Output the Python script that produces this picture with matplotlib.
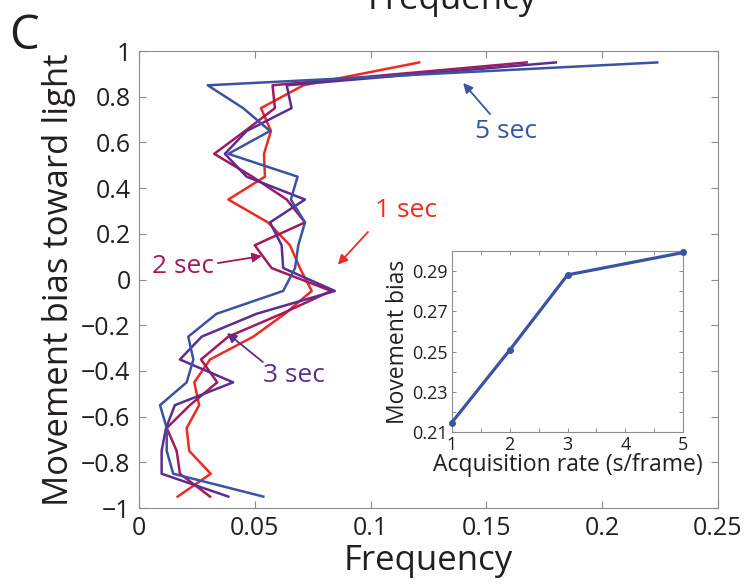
import matplotlib
matplotlib.use("Agg")
import matplotlib.pyplot as plt
import numpy as np

plt.rcParams['font.family'] = ['Open Sans', 'DejaVu Sans']

# bin centres of the bias histogram (top to bottom)
bias_bins = [0.95, 0.85, 0.75, 0.65, 0.55, 0.45, 0.35, 0.25, 0.15, 0.05,
             -0.05, -0.15, -0.25, -0.35, -0.45, -0.55, -0.65, -0.75, -0.85, -0.95]

freq_1s = [0.121, 0.071, 0.0527, 0.057, 0.054, 0.0544, 0.0386, 0.0557, 0.0652, 0.0695,
           0.0746, 0.063, 0.0494, 0.0307, 0.0239, 0.026, 0.0206, 0.0217, 0.031, 0.0167]
freq_2s = [0.1674, 0.0577, 0.0587, 0.0458, 0.0325, 0.049, 0.0638, 0.0717, 0.050, 0.0573,
           0.083, 0.0616, 0.0386, 0.0268, 0.0338, 0.022, 0.012, 0.0163, 0.0177, 0.0307]
freq_3s = [0.180, 0.0638, 0.0659, 0.0465, 0.0371, 0.0465, 0.0717, 0.0566, 0.0616, 0.0623,
           0.0846, 0.0508, 0.0271, 0.0177, 0.0407, 0.0155, 0.0117, 0.0098, 0.0098, 0.0386]
freq_5s = [0.2238, 0.0297, 0.045, 0.0566, 0.0386, 0.0685, 0.0656, 0.0717, 0.0688, 0.0674,
           0.0623, 0.0335, 0.0213, 0.0235, 0.0206, 0.0091, 0.012, 0.012, 0.0148, 0.0537]

# inset: mean bias per acquisition rate
acq_rate = [1, 2, 3, 5]
mean_bias = [0.2148, 0.2507, 0.288, 0.2991]

xticks = [0, 0.05, 0.1, 0.15, 0.2, 0.25]
xtick_labels = ['0', '0.05', '0.1', '0.15', '0.2', '0.25']
yticks = [-1, -0.8, -0.6, -0.4, -0.2, 0, 0.2, 0.4, 0.6, 0.8, 1]
ytick_labels = ['\u22121', '\u22120.8', '\u22120.6', '\u22120.4', '\u22120.2', '0',
                '0.2', '0.4', '0.6', '0.8', '1']

c_red = '#EE2A24'
c_crim = '#A3195B'
c_purp = '#5C2D91'
c_blue = '#3A53A4'
c_text = '#231F20'
c_axis = '#8C8C8C'

fig = plt.figure(figsize=(7.51, 5.85), dpi=100)
ax = fig.add_axes([0.185, 0.1316, 0.771, 0.7812])

ax.plot(freq_1s, bias_bins, color=c_red, lw=1.8)
ax.plot(freq_2s, bias_bins, color=c_crim, lw=1.8)
ax.plot(freq_3s, bias_bins, color=c_purp, lw=1.8)
ax.plot(freq_5s, bias_bins, color=c_blue, lw=1.8)

ax.set_xlim(0, 0.25)
ax.set_ylim(-1, 1)
ax.set_xticks(xticks)
ax.set_xticklabels(xtick_labels)
ax.set_yticks(yticks)
ax.set_yticklabels(ytick_labels)
ax.tick_params(direction='in', length=5, width=0.8, color=c_axis, labelsize=18,
               labelcolor=c_text, top=True, right=True, pad=6)
for s in ax.spines.values():
    s.set_color(c_axis)
    s.set_linewidth(0.8)
ax.set_xlabel('Frequency', fontsize=25, color=c_text, labelpad=2)
ax.set_ylabel('Movement bias toward light', fontsize=25, color=c_text, labelpad=4)

# series labels and their arrows
labels = [('1 sec', c_red, (0.1153, 0.30), (0.0989, 0.208), (0.0859, 0.065)),
          ('2 sec', c_crim, (0.0190, 0.059), (0.0341, 0.072), (0.0531, 0.103)),
          ('3 sec', c_purp, (0.0669, -0.422), (0.0535, -0.361), (0.0380, -0.234)),
          ('5 sec', c_blue, (0.1585, 0.646), (0.1516, 0.724), (0.1400, 0.860))]
for txt, col, pos, tail, head in labels:
    ax.text(pos[0], pos[1], txt, color=col, fontsize=19, ha='center', va='center')
    ax.annotate('', xy=head, xytext=tail,
                arrowprops=dict(arrowstyle='-|>', color=col, lw=1.3, shrinkA=0, shrinkB=0,
                                mutation_scale=14))

# inset
ins = fig.add_axes([0.6015, 0.261, 0.3084, 0.3105])
ins.plot(acq_rate, mean_bias, color=c_blue, lw=2.3, marker='o', ms=4, clip_on=False,
         zorder=3)
ins.set_xlim(1, 5)
ins.set_ylim(0.21, 0.30)
ins.set_xticks([1, 2, 3, 4, 5])
ins.set_xticks([1.5, 2.5, 3.5, 4.5], minor=True)
ins.set_yticks([0.21, 0.23, 0.25, 0.27, 0.29])
ins.set_yticklabels(['0.21', '0.23', '0.25', '0.27', '0.29'])
ins.set_yticks([0.22, 0.24, 0.26, 0.28, 0.30], minor=True)
ins.tick_params(which='both', direction='in', length=3, width=0.7, color=c_axis,
                labelsize=13, labelcolor=c_text, top=True, right=True, pad=3)
ins.tick_params(which='minor', labelleft=False, labelbottom=False)
for s in ins.spines.values():
    s.set_color(c_axis)
    s.set_linewidth(0.8)
ins.set_xlabel('Acquisition rate (s/frame)', fontsize=16.5, color=c_text, labelpad=-1)
ins.set_ylabel('Movement bias', fontsize=16.5, color=c_text, labelpad=1)

# panel letter and cut-off label from the panel above
fig.text(0.012, 1 - 49 / 585, 'C', fontsize=34, color=c_text, va='baseline')
fig.text(452 / 751, 1 - 9 / 585, 'Frequency', fontsize=25, color=c_text,
         ha='center', va='baseline')

fig.savefig('out.png', dpi=100)
